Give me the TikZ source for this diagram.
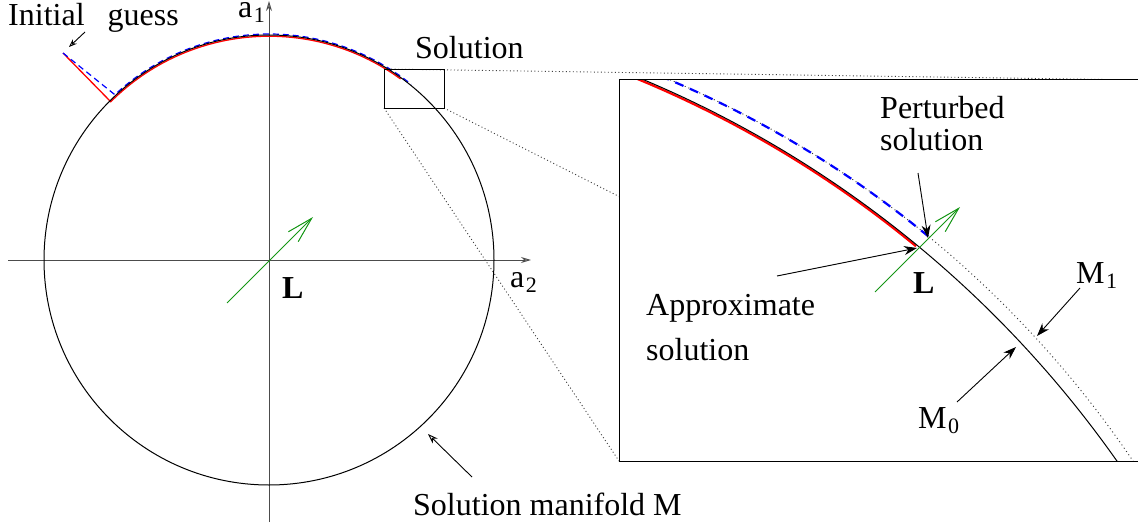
\documentclass[tikz,border=0pt]{standalone}
\usepackage{fontspec}
\setmainfont{Liberation Serif}
\usetikzlibrary{arrows.meta}
\definecolor{grn}{RGB}{20,150,20}
\newcommand\sbs[1]{\kern1.5pt\raisebox{-5pt}{\fontsize{22}{22}\selectfont #1}}
\begin{document}
\begin{tikzpicture}[x=1pt,y=-1pt,
  font=\fontsize{32}{32}\selectfont,
  lbl/.style={anchor=base west, inner sep=0pt},
  boldlbl/.style={lbl, font=\fontsize{32}{32}\selectfont\bfseries},
  blk/.style={line width=1pt},
  ptr/.style={line width=0.9pt, -{Stealth[length=13pt,width=9pt]}},
  openptr/.style={line width=0.9pt, -{Stealth[open,length=10pt,width=7pt]}},
  axisline/.style={line width=1pt, black!70, -{Stealth[open,length=10pt,width=6pt]}},
  greenarr/.style={line width=1pt, grn, -{Straight Barb[length=26pt,width=14pt]}},
  proj/.style={line width=0.9pt, black!75, dash pattern=on 1pt off 2.5pt},
]
\useasboundingbox (0,0) rectangle (1138,527);
\clip (0,0) rectangle (1138,527);

% geometry
\coordinate (O) at (269,260);
\coordinate (STL) at (384,69);
\coordinate (SBR) at (444,108);
\coordinate (SBL) at (384,108);
\coordinate (BTL) at (619,80);
\coordinate (BBR) at (1142,461);
\coordinate (BTR) at (1142,80);
\coordinate (BBL) at (619,461);

% projection lines
\draw[proj] (STL) -- (BTR);
\draw[proj] (SBR) -- (BBR);
\draw[proj] (SBL) -- (BBL);

% axes
\coordinate (xs) at (8,260);  \coordinate (xe) at (531,260);
\coordinate (ys) at (269,522); \coordinate (ye) at (269,1);
\draw[axisline] (xs) -- (xe);
\draw[axisline] (ys) -- (ye);

% initial guess and iterations
\coordinate (IG) at (63,53);
\draw[red, line width=1.3pt] (IG) -- ([shift={(-135:223.8)}]O)
   arc[start angle=-135, end angle=-54, radius=223.8];
\draw[blue, line width=1.2pt, dash pattern=on 6pt off 4pt] (IG) -- ([shift={(-133:226)}]O)
   arc[start angle=-133, end angle=-51, radius=226];

% solution manifold circle
\draw[blk] (O) circle[radius=225];

% small zoom rectangle
\draw[line width=0.9pt] (STL) rectangle (SBR);

% green direction arrow (left)
\coordinate (g1s) at (227,303); \coordinate (g1e) at (313,217);
\draw[greenarr] (g1s) -- (g1e);

% zoomed box
\fill[white] (BTL) rectangle (BBR);
\coordinate (C2) at (260,1050);
\coordinate (C0) at (218.5,1092.4);
\begin{scope}
  \clip (BTL) rectangle (BBR);
  \draw[line width=0.9pt, black!80, dash pattern=on 1pt off 3pt] (C2) circle[radius=1053];
  \draw[red, line width=2.2pt] ([shift={(-72:1096.6)}]C0) arc[start angle=-72, end angle=-50.5, radius=1096.6];
  \draw[blk] (C0) circle[radius=1098];
  \draw[blue, line width=2.2pt, dash pattern=on 9pt off 7pt] ([shift={(-72:1053)}]C2) arc[start angle=-72, end angle=-50.6, radius=1053];
\end{scope}
\draw[blk] (BTL) rectangle (BBR);

% green direction arrow (right)
\coordinate (g2s) at (875,292); \coordinate (g2e) at (960,207);
\draw[greenarr] (g2s) -- (g2e);

% labels
\node[lbl] (ig) at (8,26) {Initial\hspace{15pt} guess};
\node[lbl] (a1) at (238,18) {a\sbs{1}};
\node[lbl] (a2) at (510,287) {a\sbs{2}};
\node[boldlbl] (L1) at (282,298) {L};
\node[lbl] (sol) at (415,59) {Solution};
\node[lbl] (pert1) at (880,118) {Perturbed};
\node[lbl] (pert2) at (880,150) {solution};
\node[lbl] (appr1) at (646,315) {Approximate};
\node[lbl] (appr2) at (646,360) {solution};
\node[boldlbl] (L2) at (913,293) {L};
\node[lbl] (M1) at (1076,283) {M\sbs{1}};
\node[lbl] (M0) at (918,428) {M\sbs{0}};
\node[lbl] (sm) at (413,515) {Solution manifold M};

% pointer arrows
\coordinate (igT) at (85,32);    \coordinate (igH) at (69,47);
\draw[line width=0.9pt, -{Stealth[open,length=8pt,width=6pt]}] (igT) -- (igH);
\coordinate (smT) at (472,477);  \coordinate (smH) at (428,434);
\draw[openptr] (smT) -- (smH);
\coordinate (pT) at (918,173);   \coordinate (pH) at (928,238);
\draw[ptr] (pT) -- (pH);
\coordinate (aT) at (777,276);   \coordinate (aH) at (917,248);
\draw[ptr] (aT) -- (aH);
\coordinate (m1T) at (1080,288); \coordinate (m1H) at (1037,336);
\draw[ptr] (m1T) -- (m1H);
\coordinate (m0T) at (957,402);  \coordinate (m0H) at (1016,347);
\draw[ptr] (m0T) -- (m0H);
\end{tikzpicture}
\end{document}
